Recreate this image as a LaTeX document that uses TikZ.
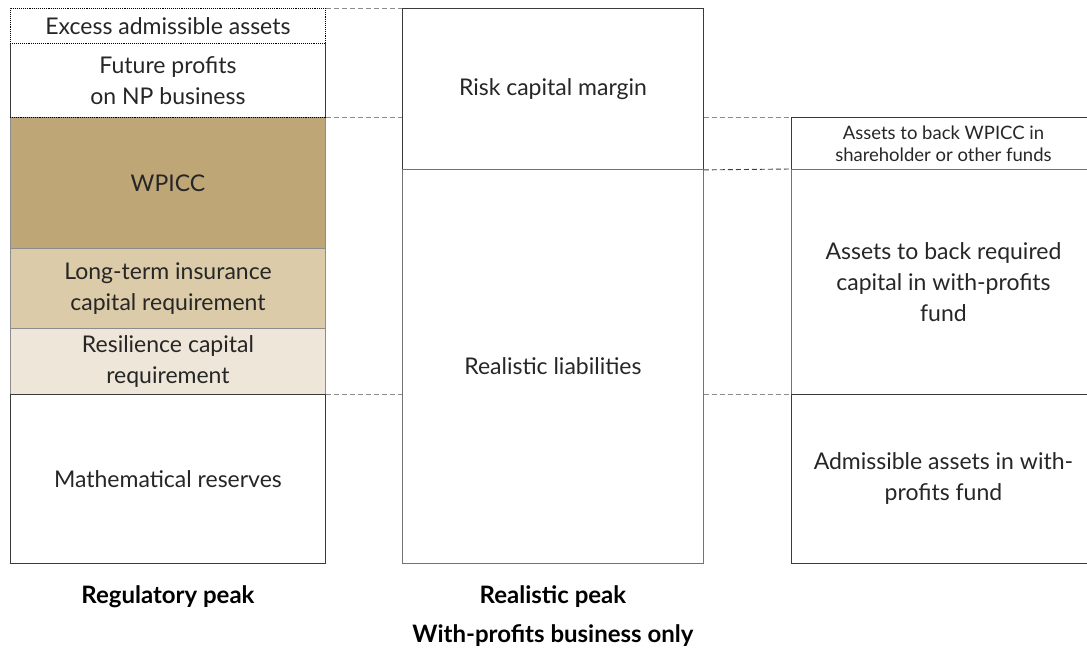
\documentclass[tikz,border=0pt]{standalone}
\usepackage{fontspec}
\setmainfont{Lato}
\usepackage{tikz}
\usetikzlibrary{positioning,calc}

\definecolor{wpicctan}{HTML}{BFA676}
\definecolor{ltictan}{HTML}{DBCBA8}
\definecolor{restan}{HTML}{EEE6D8}
\definecolor{edgegray}{HTML}{3A3A3A}
\definecolor{linkgray}{HTML}{8C8C8C}

\tikzset{
    block/.style={draw=edgegray, line width=0.9pt, anchor=north west, inner sep=0pt,
        align=center, text=black!85, font=\fontsize{23}{31}\selectfont},
    tanblock/.style={block, draw=black!45},
    smallblock/.style={block, font=\fontsize{18.5}{22}\selectfont},
    link/.style={draw=linkgray, dashed, line width=0.9pt, dash pattern=on 5pt off 3pt},
    caption/.style={font=\fontsize{24}{28}\selectfont\bfseries, text=black}
}

\begin{document}
\begin{tikzpicture}[x=1pt,y=-1pt]
    \useasboundingbox (0,0) rectangle (1087,655);

    % Regulatory peak column
    \node[block, draw=none, minimum width=315pt, minimum height=74pt] (fp) at (10,43) {Future profits\\on NP business};
    \draw[edgegray, line width=0.9pt] (fp.north west) -- (fp.south west);
    \draw[edgegray, line width=0.9pt] (fp.north east) -- (fp.south east);
    \node[block, densely dotted, draw=black, minimum width=315pt, minimum height=35pt] (excess) at (10,8) {Excess admissible assets};
    \node[tanblock, fill=wpicctan, minimum width=315pt, minimum height=131pt] (wpicc) at (10,117) {WPICC};
    \node[tanblock, fill=ltictan, minimum width=315pt, minimum height=80pt] (ltic) at (10,248) {Long-term insurance\\capital requirement};
    \node[tanblock, fill=restan, minimum width=315pt, minimum height=66pt] (resil) at (10,328) {Resilience capital\\requirement};
    \node[block, minimum width=315pt, minimum height=169pt] (math) at (10,394) {Mathematical reserves};
    \draw[black, densely dotted, line width=0.9pt] (fp.south west) -- (fp.south east);

    % Realistic peak column
    \node[block, minimum width=301pt, minimum height=161pt] (rcm) at (402,8) {Risk capital margin};
    \node[block, draw=black!55, minimum width=301pt, minimum height=394pt] (real) at (402,169) {Realistic liabilities};

    % With-profits assets column
    \node[smallblock, minimum width=304pt, minimum height=52pt] (wpassets) at (791,117) {Assets to back WPICC in\\shareholder or other funds};
    \node[block, draw=black!55, minimum width=304pt, minimum height=225pt] (reqcap) at (791,169) {Assets to back required\\capital in with-profits\\fund};
    \node[block, minimum width=304pt, minimum height=169pt] (admiss) at (791,394) {Admissible assets in with-\\profits fund};

    % Dashed links between columns
    \draw[link] (excess.north east) -- (excess.north east -| rcm.west);
    \draw[link] (fp.south east) -- (fp.south east -| rcm.west);
    \draw[link] (math.north east) -- (math.north east -| real.west);
    \draw[link] (rcm.east |- wpassets.north) -- (wpassets.north west);
    \draw[link, draw=black!75] (rcm.south east) -- (reqcap.north west);
    \draw[link] (real.east |- admiss.north) -- (admiss.north west);

    % Captions
    \node[caption] (regcap) at (math.south |- 0,597) {Regulatory peak};
    \node[caption] (realcap) at (real.south |- 0,597) {Realistic peak};
    \node[caption] (wponly) at (real.south |- 0,636) {With-profits business only};
\end{tikzpicture}
\end{document}
